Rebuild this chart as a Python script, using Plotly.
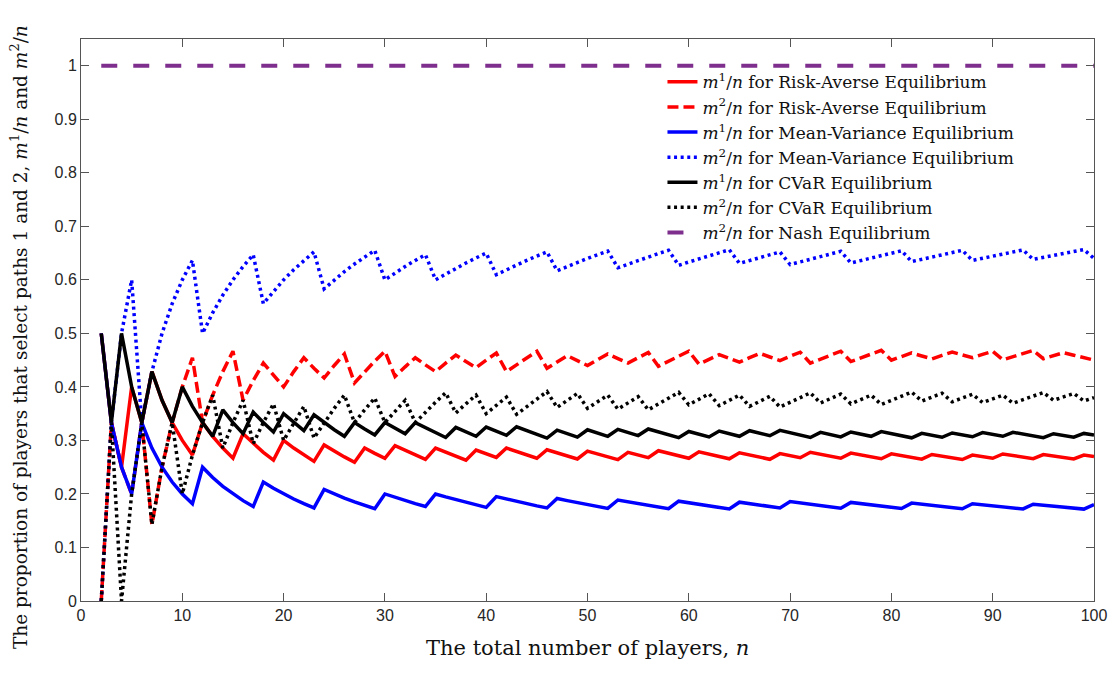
import numpy as np
import plotly.graph_objects as go

# total number of players n
n_players = list(range(2, 101))

# m^1 and m^2 counts (n = 2 ... 100)
ra_m1 = [1, 1, 1, 2, 2, 3, 3, 3, 3, 3,
         4, 4, 4, 4, 5, 5, 5, 5, 6, 6,
         6, 6, 7, 7, 7, 7, 8, 8, 8, 9,
         9, 9, 9, 10, 10, 10, 10, 11, 11, 11,
         12, 12, 12, 12, 13, 13, 13, 13, 14, 14,
         14, 14, 15, 15, 15, 16, 16, 16, 16, 17,
         17, 17, 17, 18, 18, 18, 18, 19, 19, 19,
         20, 20, 20, 20, 21, 21, 21, 21, 22, 22,
         22, 22, 23, 23, 23, 23, 24, 24, 24, 25,
         25, 25, 25, 26, 26, 26, 26, 27, 27]
ra_m2 = [0, 1, 1, 1, 2, 1, 2, 3, 4, 5,
         4, 5, 6, 7, 6, 7, 8, 8, 8, 9,
         10, 10, 10, 11, 12, 11, 12, 13, 14, 13,
         14, 15, 15, 15, 16, 17, 17, 17, 18, 19,
         18, 19, 20, 21, 20, 21, 22, 22, 22, 23,
         24, 24, 24, 25, 26, 25, 26, 27, 28, 27,
         28, 29, 29, 29, 30, 31, 31, 31, 32, 33,
         32, 33, 34, 35, 34, 35, 36, 37, 36, 37,
         38, 38, 38, 39, 40, 40, 40, 41, 42, 41,
         42, 43, 44, 43, 44, 45, 45, 45, 45]
mv_m1 = [1, 1, 1, 1, 2, 2, 2, 2, 2, 2,
         3, 3, 3, 3, 3, 3, 4, 4, 4, 4,
         4, 4, 5, 5, 5, 5, 5, 5, 6, 6,
         6, 6, 6, 7, 7, 7, 7, 7, 7, 8,
         8, 8, 8, 8, 8, 9, 9, 9, 9, 9,
         9, 10, 10, 10, 10, 10, 10, 11, 11, 11,
         11, 11, 11, 12, 12, 12, 12, 12, 13, 13,
         13, 13, 13, 13, 14, 14, 14, 14, 14, 14,
         15, 15, 15, 15, 15, 15, 16, 16, 16, 16,
         16, 16, 17, 17, 17, 17, 17, 17, 18]
mv_m2 = [0, 1, 2, 3, 2, 3, 4, 5, 6, 7,
         6, 7, 8, 9, 10, 11, 10, 11, 12, 13,
         14, 15, 14, 15, 16, 17, 18, 19, 18, 19,
         20, 21, 22, 21, 22, 23, 24, 25, 26, 25,
         26, 27, 28, 29, 30, 29, 30, 31, 32, 33,
         34, 33, 34, 35, 36, 37, 38, 37, 38, 39,
         40, 41, 42, 41, 42, 43, 44, 45, 44, 45,
         46, 47, 48, 49, 48, 49, 50, 51, 52, 53,
         52, 53, 54, 55, 56, 57, 56, 57, 58, 59,
         60, 61, 60, 61, 62, 63, 64, 65, 64]
cvar_m1 = [1, 1, 2, 2, 2, 3, 3, 3, 4, 4,
           4, 4, 5, 5, 5, 6, 6, 6, 7, 7,
           7, 8, 8, 8, 8, 9, 9, 9, 10, 10,
           10, 11, 11, 11, 11, 12, 12, 12, 13, 13,
           13, 14, 14, 14, 14, 15, 15, 15, 16, 16,
           16, 17, 17, 17, 18, 18, 18, 18, 19, 19,
           19, 20, 20, 20, 21, 21, 21, 22, 22, 22,
           22, 23, 23, 23, 24, 24, 24, 25, 25, 25,
           25, 26, 26, 26, 27, 27, 27, 28, 28, 28,
           29, 29, 29, 29, 30, 30, 30, 31, 31]
cvar_m2 = [0, 1, 0, 1, 2, 1, 2, 3, 2, 3,
           4, 5, 4, 5, 6, 5, 6, 7, 6, 7,
           8, 7, 8, 9, 10, 9, 10, 11, 10, 11,
           12, 11, 12, 13, 14, 13, 14, 15, 14, 15,
           16, 15, 16, 17, 18, 17, 18, 19, 18, 19,
           20, 19, 20, 21, 20, 21, 22, 23, 22, 23,
           24, 23, 24, 25, 24, 25, 26, 25, 26, 27,
           28, 27, 28, 29, 28, 29, 30, 29, 30, 31,
           32, 31, 32, 33, 32, 33, 34, 33, 34, 35,
           34, 35, 36, 37, 36, 37, 38, 37, 38]
# Nash equilibrium: everyone on path 2 (m^2/n)
nash_share = [1, 1, 1, 1, 1, 1, 1, 1, 1, 1,
              1, 1, 1, 1, 1, 1, 1, 1, 1, 1,
              1, 1, 1, 1, 1, 1, 1, 1, 1, 1,
              1, 1, 1, 1, 1, 1, 1, 1, 1, 1,
              1, 1, 1, 1, 1, 1, 1, 1, 1, 1,
              1, 1, 1, 1, 1, 1, 1, 1, 1, 1,
              1, 1, 1, 1, 1, 1, 1, 1, 1, 1,
              1, 1, 1, 1, 1, 1, 1, 1, 1, 1,
              1, 1, 1, 1, 1, 1, 1, 1, 1, 1,
              1, 1, 1, 1, 1, 1, 1, 1, 1]

x_ticks = [0, 10, 20, 30, 40, 50, 60, 70, 80, 90, 100]
y_ticks = [0, 0.1, 0.2, 0.3, 0.4, 0.5, 0.6, 0.7, 0.8, 0.9, 1]
y_tick_text = ["0", "0.1", "0.2", "0.3", "0.4", "0.5", "0.6", "0.7", "0.8", "0.9", "1"]

n_arr = np.array(n_players, dtype=float)

M1 = "<i>m</i><sup>1</sup>/<i>n</i>"
M2 = "<i>m</i><sup>2</sup>/<i>n</i>"

RED = "#FF0000"
BLUE = "#0000FF"
BLACK = "#000000"
PURPLE = "#7E2F8E"
LW = 3.5
DASH = "11px,5px"
DOT = "3px,3.6px"

series = [
    (ra_m1, M1 + " for Risk-Averse Equilibrium", RED, "solid"),
    (ra_m2, M2 + " for Risk-Averse Equilibrium", RED, DASH),
    (mv_m1, M1 + " for Mean-Variance Equilibrium", BLUE, "solid"),
    (mv_m2, M2 + " for Mean-Variance Equilibrium", BLUE, DOT),
    (cvar_m1, M1 + " for CVaR Equilibrium", BLACK, "solid"),
    (cvar_m2, M2 + " for CVaR Equilibrium", BLACK, DOT),
]

fig = go.Figure()
for counts, name, color, dash in series:
    fig.add_trace(go.Scatter(
        x=n_players, y=np.array(counts, dtype=float) / n_arr,
        mode="lines", name=name,
        line=dict(color=color, width=LW, dash=dash),
    ))
fig.add_trace(go.Scatter(
    x=n_players, y=nash_share, mode="lines",
    name=M2 + " for Nash Equilibrium",
    line=dict(color=PURPLE, width=4, dash="16px,16px"),
))

SERIF = "DejaVu Serif"
SANS = "Liberation Sans"
AX = "#555555"

# the page body has an 8px margin, so the figure is 8px smaller and
# the plot margins are shifted to keep the plot area in place
fig.update_layout(
    width=1110, height=673,
    margin=dict(l=73, r=24, t=31, b=80),
    paper_bgcolor="white", plot_bgcolor="white",
    showlegend=True,
    legend=dict(
        x=0.574, y=0.955, xanchor="left", yanchor="top",
        bgcolor="rgba(255,255,255,0)", borderwidth=0,
        font=dict(family=SERIF, size=17, color="#111111"),
        itemwidth=30, tracegroupgap=0,
    ),
    xaxis=dict(
        range=[0, 100], tickvals=x_ticks, ticks="inside", ticklen=8,
        showline=True, linecolor=AX, linewidth=1, mirror="ticks",
        tickcolor=AX, showgrid=False, zeroline=False,
        tickfont=dict(family=SANS, size=16, color="#262626"),
    ),
    yaxis=dict(
        range=[0, 1.05], tickvals=y_ticks, ticktext=y_tick_text,
        ticks="inside", ticklen=8,
        showline=True, linecolor=AX, linewidth=1, mirror="ticks",
        tickcolor=AX, showgrid=False, zeroline=False,
        tickfont=dict(family=SANS, size=16, color="#262626"),
    ),
    annotations=[
        dict(text="The total number of players, <i>n</i>",
             xref="paper", yref="paper", x=0.5, y=-0.084,
             xanchor="center", yanchor="middle", showarrow=False,
             font=dict(family=SERIF, size=21, color="#111111")),
        dict(text="The proportion of players that select paths 1 and 2, "
                  + M1 + " and " + M2,
             xref="paper", yref="paper", x=-0.061, y=0.47,
             xanchor="center", yanchor="middle", textangle=-90,
             showarrow=False,
             font=dict(family=SERIF, size=18.5, color="#111111")),
    ],
)

fig.write_html("out.html")
